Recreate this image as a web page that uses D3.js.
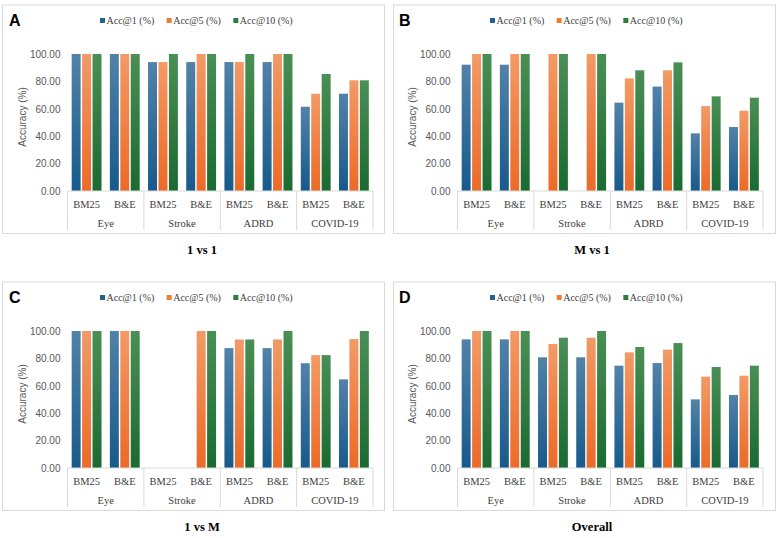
<!DOCTYPE html>
<html>
<head>
<meta charset="utf-8">
<script src="https://cdn.jsdelivr.net/npm/d3@7"></script>
<style>
  body { margin: 0; background: #fff; }
  svg { display: block; }
  .tick-label { font-family: "Liberation Sans", Arial, sans-serif; font-size: 10px; fill: #595959; }
  .cat-label { font-family: "Liberation Serif", "Times New Roman", serif; font-size: 10.5px; fill: #404040; }
  .legend-text { font-family: "Liberation Serif", "Times New Roman", serif; font-size: 10px; fill: #404040; }
  .y-title { font-family: "Liberation Sans", Arial, sans-serif; font-size: 10px; fill: #595959; }
  .panel-letter { font-family: "Liberation Sans", Arial, sans-serif; font-size: 16px; font-weight: bold; fill: #000; }
  .panel-title { font-family: "Liberation Serif", "Times New Roman", serif; font-size: 12.5px; font-weight: bold; fill: #000; }
</style>
</head>
<body>
<div id="figure"></div>
<script>
// categories
const groups = ['Eye', 'Stroke', 'ADRD', 'COVID-19'];
const methods = ['BM25', 'B&E'];
const seriesNames = ['Acc@1 (%)', 'Acc@5 (%)', 'Acc@10 (%)'];
const yTicks = [0, 20, 40, 60, 80, 100];

// panels
const panelLetters = ['A', 'B', 'C', 'D'];
const panelTitles = ['1 vs 1', 'M vs 1', '1 vs M', 'Overall'];

// values per row: [Acc@1, Acc@5, Acc@10], rows = Eye BM25, Eye B&E, Stroke BM25, ...
const oneVsOne = [
  [100, 100, 100], [100, 100, 100],
  [94.1, 94.1, 100], [94.1, 100, 100],
  [94.1, 94.1, 100], [94.1, 100, 100],
  [61.5, 71.0, 85.4], [71.0, 80.8, 80.8]
];
const mVsOne = [
  [92.2, 100, 100], [92.2, 100, 100],
  [0, 100, 100], [0, 100, 100],
  [64.5, 82.2, 88.1], [76.2, 88.1, 93.9],
  [42.1, 62.0, 69.1], [46.7, 58.6, 68.1]
];
const oneVsM = [
  [100, 100, 100], [100, 100, 100],
  [0, 0, 0], [0, 100, 100],
  [87.5, 93.8, 93.8], [87.5, 93.8, 100],
  [76.5, 82.4, 82.4], [64.7, 94.1, 100]
];
const overall = [
  [93.9, 100, 100], [93.9, 100, 100],
  [80.8, 90.5, 95.1], [80.8, 95.1, 100],
  [74.7, 84.4, 88.3], [76.6, 86.4, 91.2],
  [50.1, 66.7, 73.7], [53.3, 67.4, 74.7]
];
const panelValues = [oneVsOne, mVsOne, oneVsM, overall];

// bar colours: [top, bottom] of the gradient, plus legend swatch
const barColors = [
  { top: '#5282a8', bottom: '#175a8b', solid: '#23618f' },
  { top: '#f29a66', bottom: '#ec6a28', solid: '#ed7d31' },
  { top: '#4a8f55', bottom: '#1a6a31', solid: '#2e7d3e' }
];

const svgWidth = 780;
const svgHeight = 538;
const panelW = 390;
const panelH = 277;
const plot = { left: 67.5, right: 373, top: 54, bottom: 191 };

const svg = d3.select('#figure')
  .append('svg')
  .attr('width', svgWidth)
  .attr('height', svgHeight);

// gradients for the bars
const defs = svg.append('defs');
barColors.forEach((c, i) => {
  const grad = defs.append('linearGradient')
    .attr('id', `grad${i}`)
    .attr('x1', 0).attr('y1', 0).attr('x2', 0).attr('y2', 1);
  grad.append('stop').attr('offset', '0%').attr('stop-color', c.top);
  grad.append('stop').attr('offset', '100%').attr('stop-color', c.bottom);
});

// shared scales
const x0 = d3.scaleBand().domain(groups).range([plot.left, plot.right]);
const x1 = d3.scaleBand().domain(methods).range([0, x0.bandwidth()]);
const x2 = d3.scaleBand().domain(d3.range(seriesNames.length))
  .range([0, x1.bandwidth()])
  .paddingInner(0.14)
  .paddingOuter(0.4);
const y = d3.scaleLinear().domain([0, 100]).range([plot.bottom, plot.top]);

// flat keys for the sub-category axis
const subKeys = [];
groups.forEach(gr => methods.forEach(m => subKeys.push(`${gr}|${m}`)));
const xSub = d3.scaleBand().domain(subKeys).range([plot.left, plot.right]);

function drawPanel(index) {
  const col = index % 2;
  const row = Math.floor(index / 2);
  const values = panelValues[index];

  const g = svg.append('g')
    .attr('transform', `translate(${col * panelW}, ${row * panelH})`);

  // frame
  g.append('rect')
    .attr('x', 2.5 + col)
    .attr('y', 5)
    .attr('width', 382)
    .attr('height', 228.5)
    .attr('fill', '#fff')
    .attr('stroke', '#d9d9d9')
    .attr('stroke-width', 1);

  // panel letter
  g.append('text')
    .attr('class', 'panel-letter')
    .attr('x', 9)
    .attr('y', 26)
    .text(panelLetters[index]);

  // legend
  const legendX = d3.scaleBand().domain(d3.range(seriesNames.length)).range([100, 300]);
  const legend = g.append('g').attr('class', 'legend');
  legend.selectAll('rect')
    .data(seriesNames)
    .enter()
    .append('rect')
    .attr('x', (d, i) => legendX(i))
    .attr('y', 18)
    .attr('width', 5)
    .attr('height', 5)
    .attr('fill', (d, i) => barColors[i].solid);
  legend.selectAll('text')
    .data(seriesNames)
    .enter()
    .append('text')
    .attr('class', 'legend-text')
    .attr('x', (d, i) => legendX(i) + 6.5)
    .attr('y', 23.5)
    .text(d => d);

  // y axis
  const yAxis = g.append('g')
    .attr('transform', `translate(${plot.left}, 0)`)
    .call(d3.axisLeft(y).tickValues(yTicks).tickFormat(d3.format('.2f')).tickSize(0).tickPadding(7));
  yAxis.select('.domain').remove();
  yAxis.selectAll('text').attr('class', 'tick-label').attr('fill', null);

  g.append('text')
    .attr('class', 'y-title')
    .attr('transform', `translate(26, 117) rotate(-90)`)
    .attr('text-anchor', 'middle')
    .text('Accuracy (%)');

  // bars
  const rows = g.append('g').selectAll('g.row')
    .data(values)
    .enter()
    .append('g')
    .attr('class', 'row')
    .attr('transform', (d, i) => {
      const gr = groups[Math.floor(i / methods.length)];
      const m = methods[i % methods.length];
      return `translate(${x0(gr) + x1(m)}, 0)`;
    });

  rows.selectAll('rect')
    .data(d => d)
    .enter()
    .append('rect')
    .attr('x', (d, i) => x2(i))
    .attr('y', d => y(d))
    .attr('width', x2.bandwidth())
    .attr('height', d => y(0) - y(d))
    .attr('fill', (d, i) => `url(#grad${i})`);

  // x axis line
  g.append('line')
    .attr('x1', plot.left).attr('x2', plot.right)
    .attr('y1', plot.bottom).attr('y2', plot.bottom)
    .attr('stroke', '#d9d9d9');

  // group separators
  const bounds = groups.map(gr => x0(gr)).concat([plot.right]);
  g.selectAll('line.sep')
    .data(bounds)
    .enter()
    .append('line')
    .attr('class', 'sep')
    .attr('x1', d => d).attr('x2', d => d)
    .attr('y1', plot.bottom).attr('y2', 230)
    .attr('stroke', '#d9d9d9');

  // sub-category labels
  const subAxis = g.append('g')
    .attr('transform', `translate(0, ${plot.bottom})`)
    .call(d3.axisBottom(xSub).tickSize(0).tickPadding(0).tickFormat(d => d.split('|')[1]));
  subAxis.select('.domain').remove();
  subAxis.selectAll('text')
    .attr('class', 'cat-label')
    .attr('fill', null)
    .attr('dy', null)
    .attr('y', 16.5);

  // group labels
  const groupAxis = g.append('g')
    .attr('transform', `translate(0, ${plot.bottom})`)
    .call(d3.axisBottom(x0).tickSize(0).tickPadding(0));
  groupAxis.select('.domain').remove();
  groupAxis.selectAll('text')
    .attr('class', 'cat-label')
    .attr('fill', null)
    .attr('dy', null)
    .attr('y', 36);

  // panel title
  g.append('text')
    .attr('class', 'panel-title')
    .attr('x', 202)
    .attr('y', 254)
    .attr('text-anchor', 'middle')
    .text(panelTitles[index]);
}

panelLetters.forEach((d, i) => drawPanel(i));
</script>
</body>
</html>
